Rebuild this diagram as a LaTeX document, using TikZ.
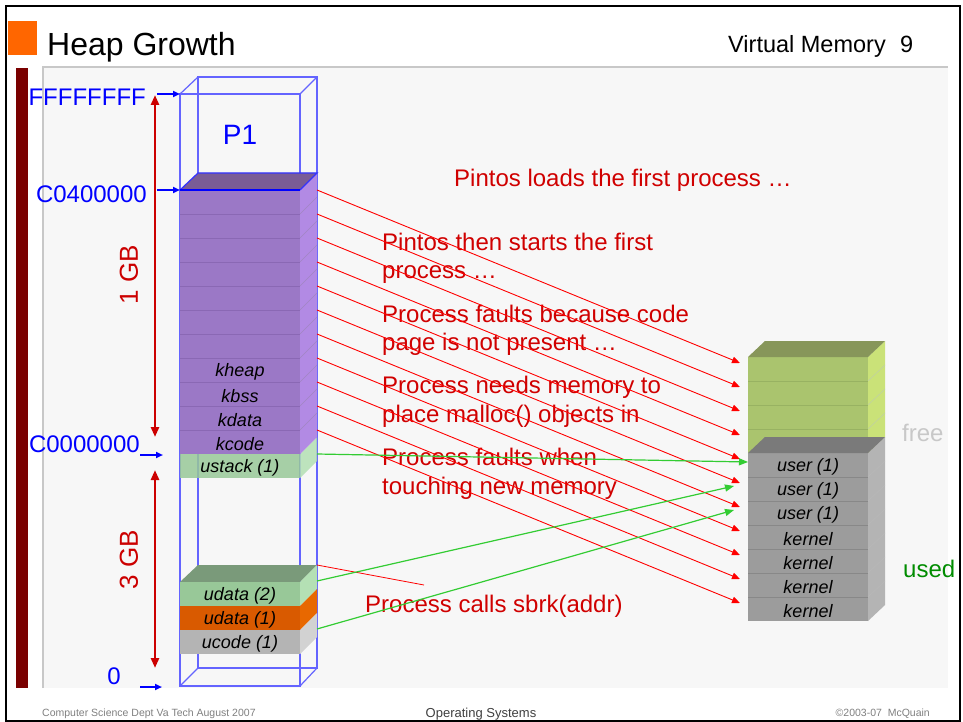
\documentclass[tikz,border=0pt]{standalone}
\usepackage{fontspec}
\setmainfont{Liberation Sans}
\usetikzlibrary{arrows.meta}
\definecolor{bggray}{RGB}{247,247,247}
\definecolor{bordergray}{RGB}{200,200,200}
\definecolor{barred}{RGB}{122,0,0}
\definecolor{titleorange}{RGB}{255,102,0}
\definecolor{addrblue}{RGB}{0,0,255}
\definecolor{wireblue}{RGB}{100,100,255}
\definecolor{sizered}{RGB}{204,0,0}
\definecolor{txtred}{RGB}{208,0,0}
\definecolor{arrred}{RGB}{255,0,0}
\definecolor{arrgreen}{RGB}{51,204,51}
\definecolor{kfront}{RGB}{155,120,198}
\definecolor{kright}{RGB}{178,138,228}
\definecolor{ktop}{RGB}{122,92,150}
\definecolor{kline}{RGB}{138,104,180}
\definecolor{gfront}{RGB}{152,200,152}
\definecolor{gright}{RGB}{180,224,180}
\definecolor{gtop}{RGB}{122,154,122}
\definecolor{ofront}{RGB}{217,90,0}
\definecolor{oright}{RGB}{232,104,0}
\definecolor{cfront}{RGB}{180,180,180}
\definecolor{cright}{RGB}{210,210,210}
\definecolor{ffront}{RGB}{170,196,110}
\definecolor{fright}{RGB}{202,226,120}
\definecolor{ftop}{RGB}{135,150,90}
\definecolor{fline}{RGB}{152,178,98}
\definecolor{ufront}{RGB}{156,156,156}
\definecolor{uright}{RGB}{180,180,180}
\definecolor{utop}{RGB}{122,122,122}
\definecolor{uline}{RGB}{136,136,136}
\definecolor{freegray}{RGB}{200,200,200}
\definecolor{usedgreen}{RGB}{0,140,0}
\definecolor{footgray}{RGB}{128,128,128}
\tikzset{
  blklabel/.style={font=\fontsize{18}{20}\selectfont\itshape, inner sep=0pt},
  note/.style={font=\fontsize{24}{28}\selectfont, text=txtred, anchor=base west, inner sep=0pt},
  addr/.style={font=\fontsize{24}{28}\selectfont, text=addrblue, anchor=base east, inner sep=0pt},
  wire/.style={draw=wireblue, line width=1.2pt},
  redarrow/.style={draw=arrred, line width=0.9pt, -{Triangle[length=8pt,width=6.5pt]}},
  grnarrow/.style={draw=arrgreen, line width=1.2pt, -{Triangle[length=9pt,width=7pt]}},
  bluearrow/.style={draw=addrblue, line width=1.8pt, -{Triangle[length=7pt,width=6pt]}},
  sizearrow/.style={draw=sizered, line width=2.5pt, {Triangle[length=10pt,width=8pt]}-{Triangle[length=10pt,width=8pt]}},
  sizelabel/.style={font=\fontsize{26}{28}\selectfont, text=sizered, rotate=90, inner sep=0pt},
}
\begin{document}
\begin{tikzpicture}[x=1pt,y=-1pt]
\useasboundingbox (0,0) rectangle (963,722);
\fill[white] (0,0) rectangle (963,722);
% slide frame and content area
\fill[bggray] (43,67) rectangle (948,688);
\draw[bordergray, line width=1.2pt] (43,688) -- (43,67) -- (948,67);
\fill[barred] (16,68) rectangle (28,688);
\draw[line width=2pt] (6,6) rectangle (959.5,720.5);
\fill[titleorange] (8,21) rectangle (37,55);
\node[anchor=base west, inner sep=0pt, font=\fontsize{32}{34}\selectfont] (title) at (47,56) {Heap Growth};
\node[anchor=base east, inner sep=0pt, font=\fontsize{23.5}{25}\selectfont] (topic) at (886,53) {Virtual Memory};
\node[anchor=base west, inner sep=0pt, font=\fontsize{23.5}{25}\selectfont] (pageno) at (900,53) {9};
% footer
\node[anchor=base west, inner sep=0pt, text=footgray, font=\fontsize{10.5}{12}\selectfont] (foot1) at (42,716) {Computer Science Dept Va Tech August 2007};
\node[anchor=base, inner sep=0pt, text=black!75, font=\fontsize{13}{14}\selectfont] (foot2) at (481,717) {Operating Systems};
\node[anchor=base east, inner sep=0pt, text=footgray, font=\fontsize{10.5}{12}\selectfont] (foot3) at (930,716) {©2003-07\ \ McQuain};

% P1 wireframe
\draw[wire] (180,94) rectangle (300,686);
\draw[wire] (198,77) rectangle (317,668);
\draw[wire] (180,94) -- (198,77) (300,94) -- (317,77) (180,686) -- (198,668) (300,686) -- (317,668);
\node[text=addrblue, font=\fontsize{28}{30}\selectfont, inner sep=0pt] (p1) at (240,135) {P1};
\coordinate (fTop) at (180,94);
\coordinate (kTop) at (180,190);

% ustack block
\fill[gfront, fill opacity=0.85] (180,454) rectangle (300,478);
\fill[gright, fill opacity=0.85] (300,454) -- (317,437) -- (317,461) -- (300,478) -- cycle;
\node[blklabel] (ustack) at (240,468) {ustack (1)};

% kernel block
\fill[kfront] (180,190) rectangle (300,454);
\fill[kright] (300,190) -- (317,173) -- (317,437) -- (300,454) -- cycle;
\fill[ktop] (180,190) -- (198,173) -- (317,173) -- (300,190) -- cycle;
\foreach \i in {1,...,10} {
  \draw[kline, line width=0.8pt] (180,190+24*\i) -- (300,190+24*\i);
  \draw[kline!80!white, line width=0.6pt] (300,190+24*\i) -- (317,173+24*\i);
}
\draw[addrblue!80!white, line width=1.2pt] (180,190) -- (198,173) -- (317,173) -- (300,190);
\draw[addrblue, line width=1.8pt] (180,190) -- (300,190);
\node[blklabel] (kheap) at (240,372) {kheap};
\node[blklabel] (kbss) at (240,396) {kbss};
\node[blklabel] (kdata) at (240,420) {kdata};
\node[blklabel] (kcode) at (240,444) {kcode};

% user blocks
\fill[gtop] (180,582) -- (198,565) -- (317,565) -- (300,582) -- cycle;
\fill[gfront] (180,582) rectangle (300,606);
\fill[gright] (300,582) -- (317,565) -- (317,589) -- (300,606) -- cycle;
\fill[ofront] (180,606) rectangle (300,630);
\fill[oright] (300,606) -- (317,589) -- (317,613) -- (300,630) -- cycle;
\fill[cfront] (180,630) rectangle (300,654);
\fill[cright] (300,630) -- (317,613) -- (317,637) -- (300,654) -- cycle;
\node[blklabel] (udata2) at (240,596) {udata (2)};
\node[blklabel] (udata1) at (240,620) {udata (1)};
\node[blklabel] (ucode) at (240,644) {ucode (1)};

% address labels and arrows
\node[addr] (aF) at (146,106) {FFFFFFFF};
\node[addr] (aC4) at (147,202) {C0400000};
\node[addr] (aC0) at (140,452) {C0000000};
\node[addr] (aZ) at (121,684) {0};
\coordinate (bF) at (157,94);
\coordinate (bC4s) at (157,190);
\coordinate (bC0s) at (140,455);
\coordinate (bC0e) at (163,455);
\coordinate (bZs) at (140,687);
\coordinate (bZe) at (162,687);
\draw[bluearrow] (bF) -- (fTop);
\draw[bluearrow] (bC4s) -- (kTop);
\draw[bluearrow] (bC0s) -- (bC0e);
\draw[bluearrow] (bZs) -- (bZe);

% size arrows
\coordinate (s1a) at (155,95);
\coordinate (s1b) at (155,437);
\coordinate (s3a) at (155,470);
\coordinate (s3b) at (155,668);
\draw[sizearrow] (s1a) -- (s1b);
\draw[sizearrow] (s3a) -- (s3b);
\node[sizelabel] (gb1) at (129,275) {1 GB};
\node[sizelabel] (gb3) at (129,560) {3 GB};

% physical memory stack: free part
\fill[ffront] (748,357) rectangle (868,453);
\fill[fright] (868,357) -- (885,341) -- (885,437) -- (868,453) -- cycle;
\fill[ftop] (748,357) -- (765,341) -- (885,341) -- (868,357) -- cycle;
\foreach \i in {1,2,3} {
  \draw[fline, line width=0.8pt] (748,357+24*\i) -- (868,357+24*\i);
  \draw[fline!60!white, line width=0.6pt] (868,357+24*\i) -- (885,341+24*\i);
}
% used part
\fill[ufront] (748,453) rectangle (868,621);
\fill[uright] (868,453) -- (885,437) -- (885,605) -- (868,621) -- cycle;
\fill[utop] (748,453) -- (765,437) -- (885,437) -- (868,453) -- cycle;
\foreach \i in {1,...,6} {
  \draw[uline, line width=0.8pt] (748,453+24*\i) -- (868,453+24*\i);
  \draw[uline!60!white, line width=0.6pt] (868,453+24*\i) -- (885,437+24*\i);
}
\node[blklabel] (pu1) at (808,467) {user (1)};
\node[blklabel] (pu2) at (808,491) {user (1)};
\node[blklabel] (pu3) at (808,515) {user (1)};
\node[blklabel] (pk1) at (808,539) {kernel};
\node[blklabel] (pk2) at (808,563) {kernel};
\node[blklabel] (pk3) at (808,587) {kernel};
\node[blklabel] (pk4) at (808,611) {kernel};
\node[anchor=base west, inner sep=0pt, text=freegray, font=\fontsize{24}{26}\selectfont] (free) at (902,441) {free};
\node[anchor=base west, inner sep=0pt, text=usedgreen, font=\fontsize{24}{26}\selectfont] (used) at (903,577) {used};

% narrative texts
\node[note] (n1) at (454,186) {Pintos loads the first process …};
\node[note] (n2a) at (382,250) {Pintos then starts the first};
\node[note] (n2b) at (382,278.5) {process …};
\node[note] (n3a) at (382,322) {Process faults because code};
\node[note] (n3b) at (382,350.5) {page is not present …};
\node[note] (n4a) at (382,393.5) {Process needs memory to};
\node[note] (n4b) at (382,422) {place malloc() objects in};
\node[note] (n5a) at (382,465) {Process faults when};
\node[note] (n5b) at (382,494) {touching new memory};
\node[note] (n6) at (365,612) {Process calls sbrk(addr)};

% red mapping arrows
\foreach \i in {0,...,10} {
  \coordinate (ks\i) at (317,190+24*\i);
  \coordinate (pe\i) at (740,363+24*\i);
  \draw[redarrow] (ks\i) -- (pe\i);
}
% sbrk pointer line
\coordinate (sbA) at (317,565);
\coordinate (sbB) at (424,585);
\draw[arrred, line width=0.8pt] (sbA) -- (sbB);

% green mapping arrows
\coordinate (gA1) at (317,454);
\coordinate (gB1) at (748,462);
\coordinate (gA2) at (317,581);
\coordinate (gB2) at (734,486);
\coordinate (gA3) at (317,629);
\coordinate (gB3) at (734,510);
\draw[grnarrow] (gA1) -- (gB1);
\draw[grnarrow] (gA2) -- (gB2);
\draw[grnarrow] (gA3) -- (gB3);
\end{tikzpicture}
\end{document}
